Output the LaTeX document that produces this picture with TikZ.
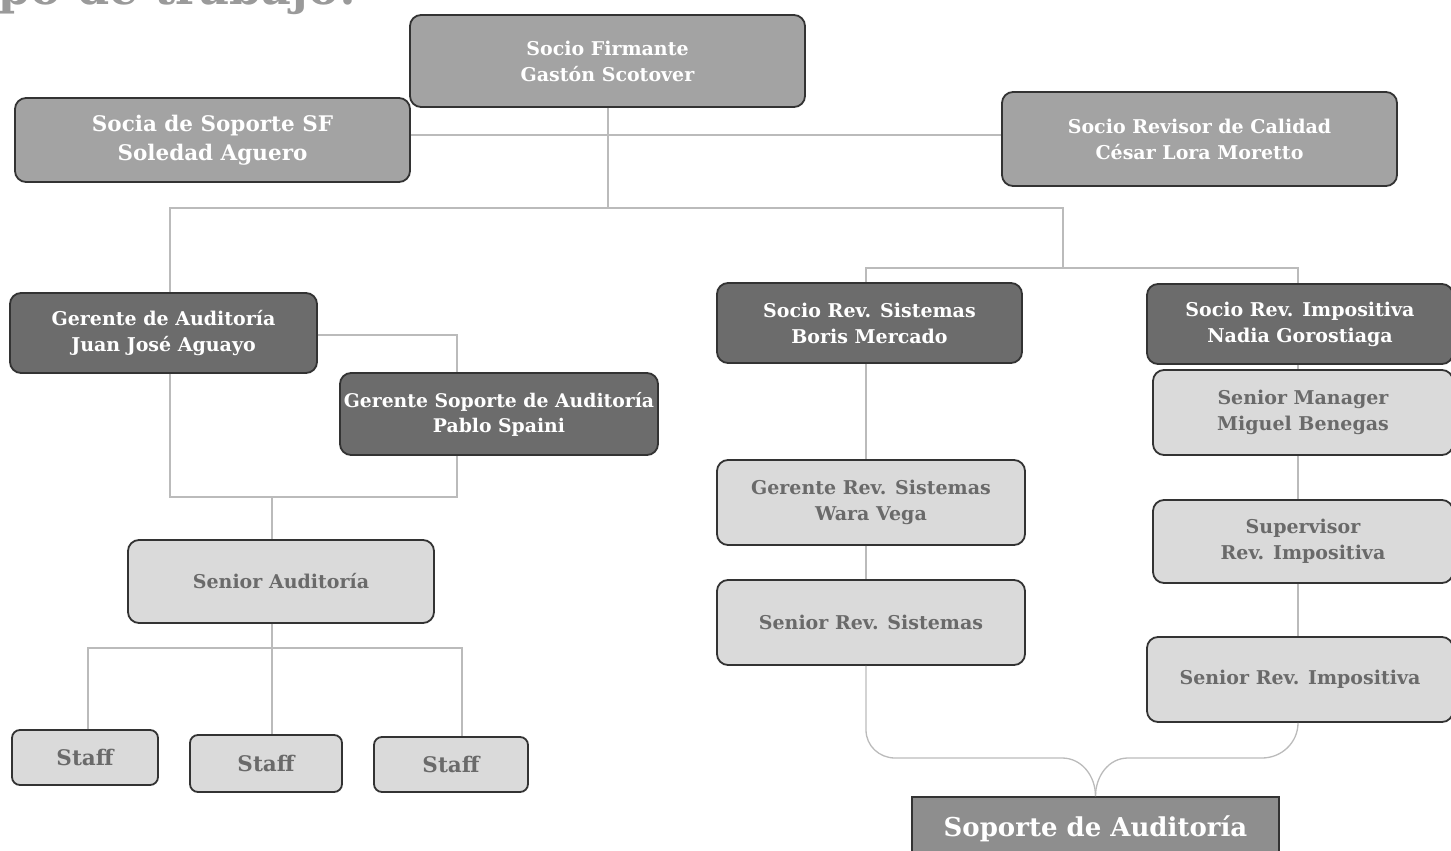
\documentclass[tikz,border=0pt]{standalone}
\usepackage{fontspec}
\setmainfont{DejaVu Serif}
\definecolor{midfill}{HTML}{A3A3A3}
\definecolor{darkfill}{HTML}{6C6C6C}
\definecolor{lightfill}{HTML}{DADADA}
\definecolor{supfill}{HTML}{8E8E8E}
\definecolor{bordercol}{HTML}{333333}
\definecolor{lighttext}{HTML}{6A6A6A}
\definecolor{linecol}{HTML}{BBBBBB}
\definecolor{titlecol}{HTML}{9A9A9A}
\begin{document}
\begin{tikzpicture}[x=1pt,y=-1pt,
  box/.style={draw=bordercol, line width=1.8pt, rounded corners=11pt, align=center, inner sep=0pt, font=\bfseries\fontsize{19}{26}\selectfont},
  midbox/.style={box, fill=midfill, text=white},
  darkbox/.style={box, fill=darkfill, text=white},
  lightbox/.style={box, fill=lightfill, text=lighttext},
  staffbox/.style={lightbox, rounded corners=8pt, font=\bfseries\fontsize{21.5}{26}\selectfont},
  conn/.style={draw=linecol, line width=1.3pt}
]
\useasboundingbox (0,0) rectangle (1451,851);
% title (cut off at top)
\node[anchor=base west, inner sep=0pt, text=titlecol, font=\bfseries\fontsize{46}{46}\selectfont] (title) at (-2,5) {po de trabajo:};

% top level
\node[midbox, minimum width=395, minimum height=92] (sf) at (607.5,61) {Socio Firmante\\Gastón Scotover};
\node[midbox, minimum width=395, minimum height=84, font=\bfseries\fontsize{21.5}{29}\selectfont] (ssf) at (212.5,140) {Socia de Soporte SF\\Soledad Aguero};
\node[midbox, minimum width=395, minimum height=94] (src) at (1199.5,139) {Socio Revisor de Calidad\\César Lora Moretto};

% second level
\node[darkbox, minimum width=307, minimum height=80] (ga) at (163.5,333) {Gerente de Auditoría\\Juan José Aguayo};
\node[darkbox, minimum width=318, minimum height=82, font=\bfseries\fontsize{18.8}{25}\selectfont] (gsa) at (499,414) {Gerente Soporte de Auditoría\\Pablo Spaini};
\node[darkbox, minimum width=305, minimum height=80] (srs) at (869.5,323) {Socio Rev. Sistemas\\Boris Mercado};
\node[darkbox, minimum width=306, minimum height=80] (sri) at (1300,324) {Socio Rev. Impositiva\\Nadia Gorostiaga};

% right columns
\node[lightbox, minimum width=300, minimum height=85] (sm) at (1303,412.5) {Senior Manager\\Miguel Benegas};
\node[lightbox, minimum width=300, minimum height=83] (sup) at (1303,541.5) {Supervisor\\Rev. Impositiva};
\node[lightbox, minimum width=306, minimum height=85] (senri) at (1300,679.5) {Senior Rev. Impositiva};
\node[lightbox, minimum width=308, minimum height=85] (grs) at (871,502.5) {Gerente Rev. Sistemas\\Wara Vega};
\node[lightbox, minimum width=308, minimum height=85] (senrs) at (871,622.5) {Senior Rev. Sistemas};

% audit column
\node[lightbox, minimum width=306, minimum height=83] (sa) at (281,581.5) {Senior Auditoría};
\node[staffbox, minimum width=146, minimum height=55] (st1) at (85,757.5) {Staff};
\node[staffbox, minimum width=152, minimum height=57] (st2) at (266,763.5) {Staff};
\node[staffbox, minimum width=154, minimum height=55] (st3) at (451,764.5) {Staff};

% support
\node[box, fill=supfill, text=white, rounded corners=0pt, minimum width=367, minimum height=64, font=\bfseries\fontsize{26}{30}\selectfont] (sop) at (1095.5,829) {Soporte de Auditoría};

% connectors
\draw[conn] (ssf.east |- 0,135) -- (src.west |- 0,135);
\coordinate (j1) at (608,208);
\draw[conn] (sf.south -| j1) -- (j1);
\draw[conn] (ga.north -| 170,0) |- (1063,208) -- (1063,268);
\draw[conn] (srs.north -| 866,0) |- (1298,268) -- (sri.north -| 1298,0);
\draw[conn] (ga.east |- 0,335) -| (gsa.north -| 457,0);
\draw[conn] (ga.south -| 170,0) |- (457,497) -- (gsa.south -| 457,0);
\draw[conn] (272,497) -- (sa.north -| 272,0);
\draw[conn] (sa.south -| 272,0) -- (272,648);
\draw[conn] (st1.north -| 88,0) |- (462,648) -- (st3.north -| 462,0);
\draw[conn] (272,648) -- (st2.north -| 272,0);
\draw[conn] (srs.south -| 866,0) -- (grs.north -| 866,0);
\draw[conn] (grs.south -| 866,0) -- (senrs.north -| 866,0);
\draw[conn] (sri.south -| 1298,0) -- (sm.north -| 1298,0);
\draw[conn] (sm.south -| 1298,0) -- (sup.north -| 1298,0);
\draw[conn] (sup.south -| 1298,0) -- (senri.north -| 1298,0);
% brace
\coordinate (tip) at (sop.north);
\draw[conn] (senrs.south -| 866,0) -- (866,730) to[out=-90,in=180] (895,758) -- (1062,758) to[out=0,in=90] (tip);
\draw[conn] (senri.south -| 1298,0) to[out=-90,in=0] (1262,758) -- (1128,758) to[out=180,in=90] (tip);
\end{tikzpicture}
\end{document}
